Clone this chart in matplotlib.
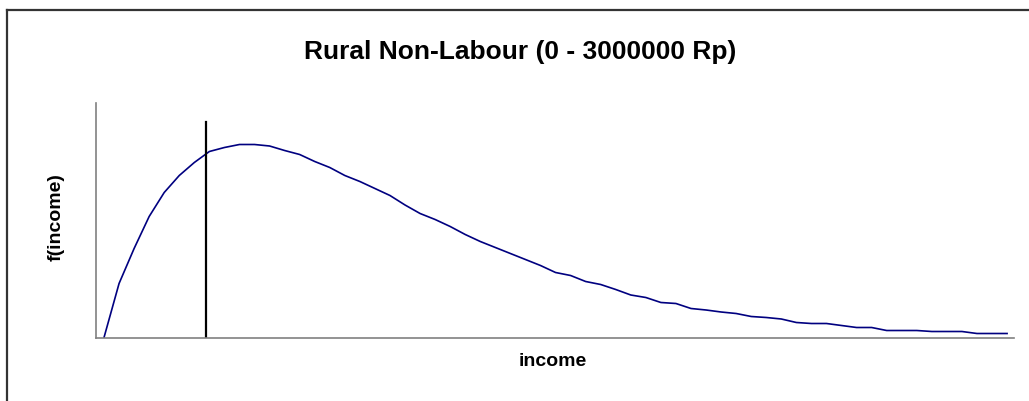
import matplotlib
matplotlib.use("Agg")
import matplotlib.pyplot as plt
from matplotlib.lines import Line2D
import numpy as np

# Income grid (Rp), 50,000 Rp steps from 0 to 3,000,000
income = [k * 50000 for k in range(61)]
# Estimated density values (arbitrary units)
density = [0, 54, 89, 121, 145, 162, 175, 186, 190, 193,
           193, 191.5, 187, 183, 176, 170, 162, 156, 149, 142,
           132.5, 124, 118, 111, 103, 96, 90, 84, 78, 72,
           65, 62, 56, 53, 48, 42.5, 40, 35, 34, 29,
           27.5, 25.5, 24, 21, 20, 18.5, 15, 14, 14, 12,
           10, 10, 7, 7, 7, 6, 6, 6, 4, 4, 4]
poverty_line = 338000
poverty_line_top = 216

title = "Rural Non-Labour (0 - 3000000 Rp)"
xlabel = "income"
ylabel = "f(income)"

fig = plt.figure(figsize=(10.29, 4.01), dpi=100)
ax = fig.add_axes([96/1029, 1 - 337.5/401, (1014-96)/1029, (337.5-103)/401])

ax.plot(income, density, color="#000080", lw=1.2)
ax.plot([poverty_line, poverty_line], [0, poverty_line_top], color="black", lw=1.6)

ax.set_xlim(-26600, 3023000)
ax.set_ylim(0, 234.5)
ax.set_xticks([])
ax.set_yticks([])
for s in ["top", "right"]:
    ax.spines[s].set_visible(False)
for s in ["left", "bottom"]:
    ax.spines[s].set_color("#808080")
    ax.spines[s].set_linewidth(1.2)

fontfam = ["Liberation Sans", "DejaVu Sans"]
fig.text(520/1029, 1 - 52/401, title, ha="center", va="center",
         fontsize=19, fontweight="bold", family=fontfam)
fig.text(553/1029, 1 - 362/401, xlabel, ha="center", va="center",
         fontsize=14, fontweight="bold", family=fontfam)
fig.text(56/1029, 1 - 217/401, ylabel, ha="center", va="center",
         fontsize=14, fontweight="bold", family=fontfam, rotation=90)

# Outer frame (top and left edges visible)
fig.add_artist(Line2D([6.5/1029, 1.0], [1 - 9.5/401, 1 - 9.5/401],
                      transform=fig.transFigure, color="#333333", lw=1.6))
fig.add_artist(Line2D([6.5/1029, 6.5/1029], [0, 1 - 9.5/401],
                      transform=fig.transFigure, color="#333333", lw=1.6))

fig.savefig("out.png", dpi=100)
